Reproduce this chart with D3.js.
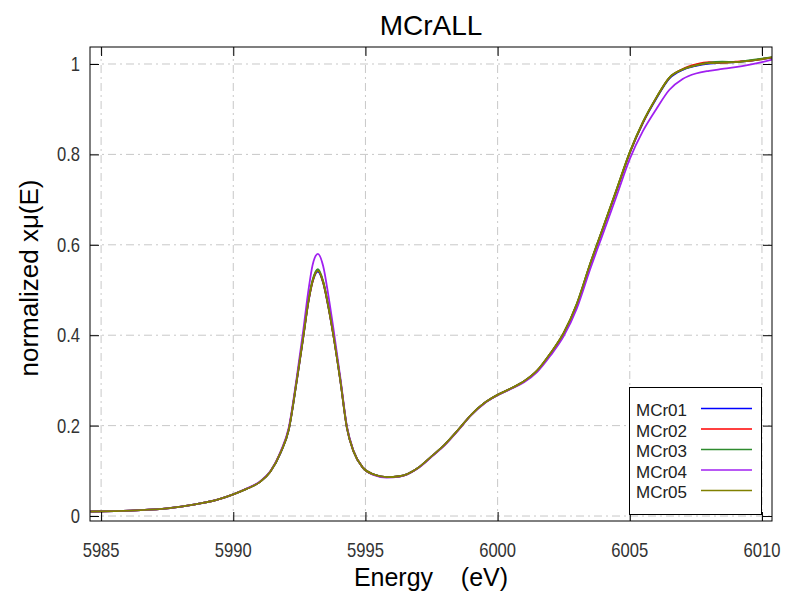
<!DOCTYPE html>
<html>
<head>
  <meta charset="utf-8">
  <title>MCrALL</title>
  <script src="https://d3js.org/d3.v7.min.js"></script>
  <style>
    body {
      margin: 0;
      padding: 0;
      background-color: white;
    }
    text {
      font-family: "Liberation Sans", Arial, sans-serif;
    }
    .grid line {
      stroke: #c8c8c8;
      stroke-dasharray: 8,4,2,4;
    }
    .tick-label {
      font-size: 20px;
      fill: #333;
    }
  </style>
</head>
<body>

  <div id="chart"></div>

  <script>
    // energy grid (eV) and normalized absorption for each sample
    var energy = [5984.6, 5985.5, 5986.5, 5987.5, 5988.5, 5989.5, 5990.0, 5990.5, 5991.0, 5991.4,
                  5991.8, 5992.1, 5992.4, 5992.65, 5992.85, 5993.0, 5993.2, 5993.4, 5993.6, 5993.8,
                  5994.05, 5994.3, 5994.55, 5994.9, 5995.3, 5995.8, 5996.3, 5997.0, 5997.5, 5998.0,
                  5998.5, 5999.0, 5999.5, 6000.0, 6000.5, 6001.0, 6001.5, 6002.0, 6002.5, 6003.0,
                  6003.5, 6004.0, 6004.5, 6005.0, 6005.5, 6006.0, 6006.5, 6007.0, 6007.5, 6008.0,
                  6008.5, 6009.0, 6009.5, 6010.0, 6010.4];

    var mcr01 = [0.010, 0.011, 0.013, 0.017, 0.025, 0.038, 0.048, 0.060, 0.075, 0.098,
                 0.141, 0.191, 0.298, 0.396, 0.476, 0.518, 0.541, 0.516, 0.461, 0.395,
                 0.299, 0.194, 0.143, 0.107, 0.092, 0.086, 0.088, 0.107, 0.132, 0.158,
                 0.190, 0.224, 0.250, 0.268, 0.282, 0.298, 0.321, 0.359, 0.404, 0.468,
                 0.556, 0.638, 0.720, 0.803, 0.870, 0.923, 0.968, 0.987, 0.996, 1.001,
                 1.003, 1.004, 1.007, 1.011, 1.014];
    var mcr02 = [0.010, 0.011, 0.013, 0.017, 0.025, 0.038, 0.048, 0.060, 0.075, 0.098,
                 0.142, 0.192, 0.299, 0.397, 0.477, 0.519, 0.544, 0.517, 0.462, 0.395,
                 0.300, 0.195, 0.143, 0.107, 0.092, 0.086, 0.088, 0.107, 0.132, 0.158,
                 0.190, 0.224, 0.250, 0.268, 0.282, 0.298, 0.322, 0.360, 0.405, 0.469,
                 0.557, 0.639, 0.721, 0.804, 0.871, 0.925, 0.970, 0.989, 0.999, 1.004,
                 1.003, 1.005, 1.007, 1.011, 1.015];
    var mcr03 = [0.010, 0.011, 0.013, 0.017, 0.025, 0.038, 0.048, 0.060, 0.075, 0.098,
                 0.142, 0.192, 0.300, 0.399, 0.479, 0.522, 0.546, 0.520, 0.464, 0.397,
                 0.301, 0.196, 0.143, 0.107, 0.092, 0.086, 0.088, 0.107, 0.132, 0.158,
                 0.190, 0.224, 0.250, 0.268, 0.282, 0.298, 0.322, 0.360, 0.405, 0.470,
                 0.558, 0.640, 0.722, 0.805, 0.872, 0.925, 0.970, 0.988, 0.997, 1.003,
                 1.005, 1.004, 1.008, 1.012, 1.015];
    var mcr04 = [0.010, 0.011, 0.013, 0.017, 0.025, 0.038, 0.048, 0.061, 0.076, 0.099,
                 0.144, 0.196, 0.306, 0.412, 0.502, 0.555, 0.580, 0.553, 0.487, 0.410,
                 0.306, 0.198, 0.144, 0.107, 0.091, 0.085, 0.087, 0.106, 0.131, 0.157,
                 0.189, 0.223, 0.249, 0.267, 0.281, 0.296, 0.319, 0.355, 0.398, 0.460,
                 0.546, 0.627, 0.708, 0.790, 0.852, 0.900, 0.943, 0.967, 0.979, 0.985,
                 0.989, 0.993, 0.998, 1.004, 1.010];
    var mcr05 = [0.010, 0.011, 0.013, 0.017, 0.025, 0.038, 0.048, 0.060, 0.075, 0.098,
                 0.142, 0.192, 0.300, 0.398, 0.478, 0.520, 0.543, 0.518, 0.463, 0.396,
                 0.300, 0.195, 0.143, 0.107, 0.092, 0.086, 0.088, 0.107, 0.132, 0.158,
                 0.190, 0.224, 0.250, 0.268, 0.282, 0.298, 0.322, 0.360, 0.405, 0.470,
                 0.558, 0.640, 0.722, 0.805, 0.872, 0.925, 0.970, 0.988, 0.997, 1.002,
                 1.003, 1.004, 1.007, 1.011, 1.015];

    var seriesNames = ["MCr01", "MCr02", "MCr03", "MCr04", "MCr05"];
    var seriesValues = [mcr01, mcr02, mcr03, mcr04, mcr05];
    var seriesColors = ["#0000ff", "#ff0000", "#2e8b2e", "#a020f0", "#808000"];

    var xTicks = [5985, 5990, 5995, 6000, 6005, 6010];
    var yTicks = [0, 0.2, 0.4, 0.6, 0.8, 1];

    var width = 787,
        height = 592,
        pLeft = 90, pRight = 772, pTop = 47, pBottom = 521;

    var svg = d3.select("#chart")
      .append("svg")
        .attr("width", width)
        .attr("height", height);

    var x = d3.scaleLinear().domain([5984.58, 6010.38]).range([pLeft, pRight]);
    var y = d3.scaleLinear().domain([-0.011, 1.0376]).range([pBottom, pTop]);

    // grid
    var grid = svg.append("g").attr("class", "grid");
    grid.selectAll(".gx").data(xTicks).enter().append("line")
        .attr("x1", function(d) { return x(d); })
        .attr("x2", function(d) { return x(d); })
        .attr("y1", pTop).attr("y2", pBottom);
    grid.selectAll(".gy").data(yTicks).enter().append("line")
        .attr("y1", function(d) { return y(d); })
        .attr("y2", function(d) { return y(d); })
        .attr("x1", pLeft).attr("x2", pRight);

    // curves
    svg.append("clipPath").attr("id", "clip")
      .append("rect")
        .attr("x", pLeft).attr("y", pTop)
        .attr("width", pRight - pLeft).attr("height", pBottom - pTop);

    var line = d3.line()
        .x(function(d, i) { return x(energy[i]); })
        .y(function(d) { return y(d); })
        .curve(d3.curveMonotoneX);

    svg.append("g").attr("clip-path", "url(#clip)")
      .selectAll("path")
        .data(seriesValues)
      .enter().append("path")
        .attr("d", line)
        .attr("fill", "none")
        .attr("stroke", function(d, i) { return seriesColors[i]; })
        .attr("stroke-width", 1.8);

    // inward ticks on all four sides
    function ticks(axis, pos) {
      var g = svg.append("g").attr("transform", pos).call(axis.tickSizeOuter(0).tickFormat(""));
      g.select(".domain").remove();
      g.selectAll(".tick line").attr("stroke", "#000");
    }
    ticks(d3.axisBottom(x).tickValues(xTicks).tickSizeInner(-9), "translate(0," + pBottom + ")");
    ticks(d3.axisTop(x).tickValues(xTicks).tickSizeInner(-9), "translate(0," + pTop + ")");
    ticks(d3.axisLeft(y).tickValues(yTicks).tickSizeInner(-9), "translate(" + pLeft + ",0)");
    ticks(d3.axisRight(y).tickValues(yTicks).tickSizeInner(-9), "translate(" + pRight + ",0)");

    // tick labels
    svg.selectAll(".xl").data(xTicks).enter().append("text")
        .attr("class", "tick-label")
        .attr("text-anchor", "middle")
        .attr("transform", function(d) { return "translate(" + x(d) + ",557) scale(0.83,1)"; })
        .text(function(d) { return d; });
    svg.selectAll(".yl").data(yTicks).enter().append("text")
        .attr("class", "tick-label")
        .attr("text-anchor", "end")
        .attr("transform", function(d) { return "translate(80," + (y(d) + 7) + ") scale(0.83,1)"; })
        .text(function(d) { return d; });

    // frame
    svg.append("rect")
        .attr("x", pLeft).attr("y", pTop)
        .attr("width", pRight - pLeft).attr("height", pBottom - pTop)
        .attr("fill", "none")
        .attr("stroke", "#000");

    // legend
    var legend = svg.append("g");
    legend.append("rect")
        .attr("x", 629.5).attr("y", 387.5)
        .attr("width", 132).attr("height", 127)
        .attr("fill", "white")
        .attr("stroke", "#000");
    var items = legend.selectAll(".item").data(seriesNames).enter().append("g")
        .attr("transform", function(d, i) { return "translate(0," + (416 + i * 20.5) + ")"; });
    items.append("text")
        .attr("x", 636)
        .style("font-size", "17px")
        .attr("fill", "#222")
        .text(function(d) { return d; });
    items.append("line")
        .attr("x1", 701).attr("x2", 752)
        .attr("y1", -7.5).attr("y2", -7.5)
        .attr("stroke", function(d, i) { return seriesColors[i]; })
        .attr("stroke-width", 1.5);

    // titles
    svg.append("text")
        .attr("x", (pLeft + pRight) / 2).attr("y", 35)
        .attr("text-anchor", "middle")
        .style("font-size", "28px")
        .text("MCrALL");
    svg.append("text")
        .attr("x", (pLeft + pRight) / 2).attr("y", 586)
        .attr("text-anchor", "middle")
        .style("font-size", "25px")
        .style("white-space", "pre")
        .text("Energy    (eV)");
    svg.append("text")
        .attr("transform", "translate(38,278) rotate(-90)")
        .attr("text-anchor", "middle")
        .style("font-size", "26px")
        .text("normalized x\u03bc(E)");
  </script>

</body>
</html>
